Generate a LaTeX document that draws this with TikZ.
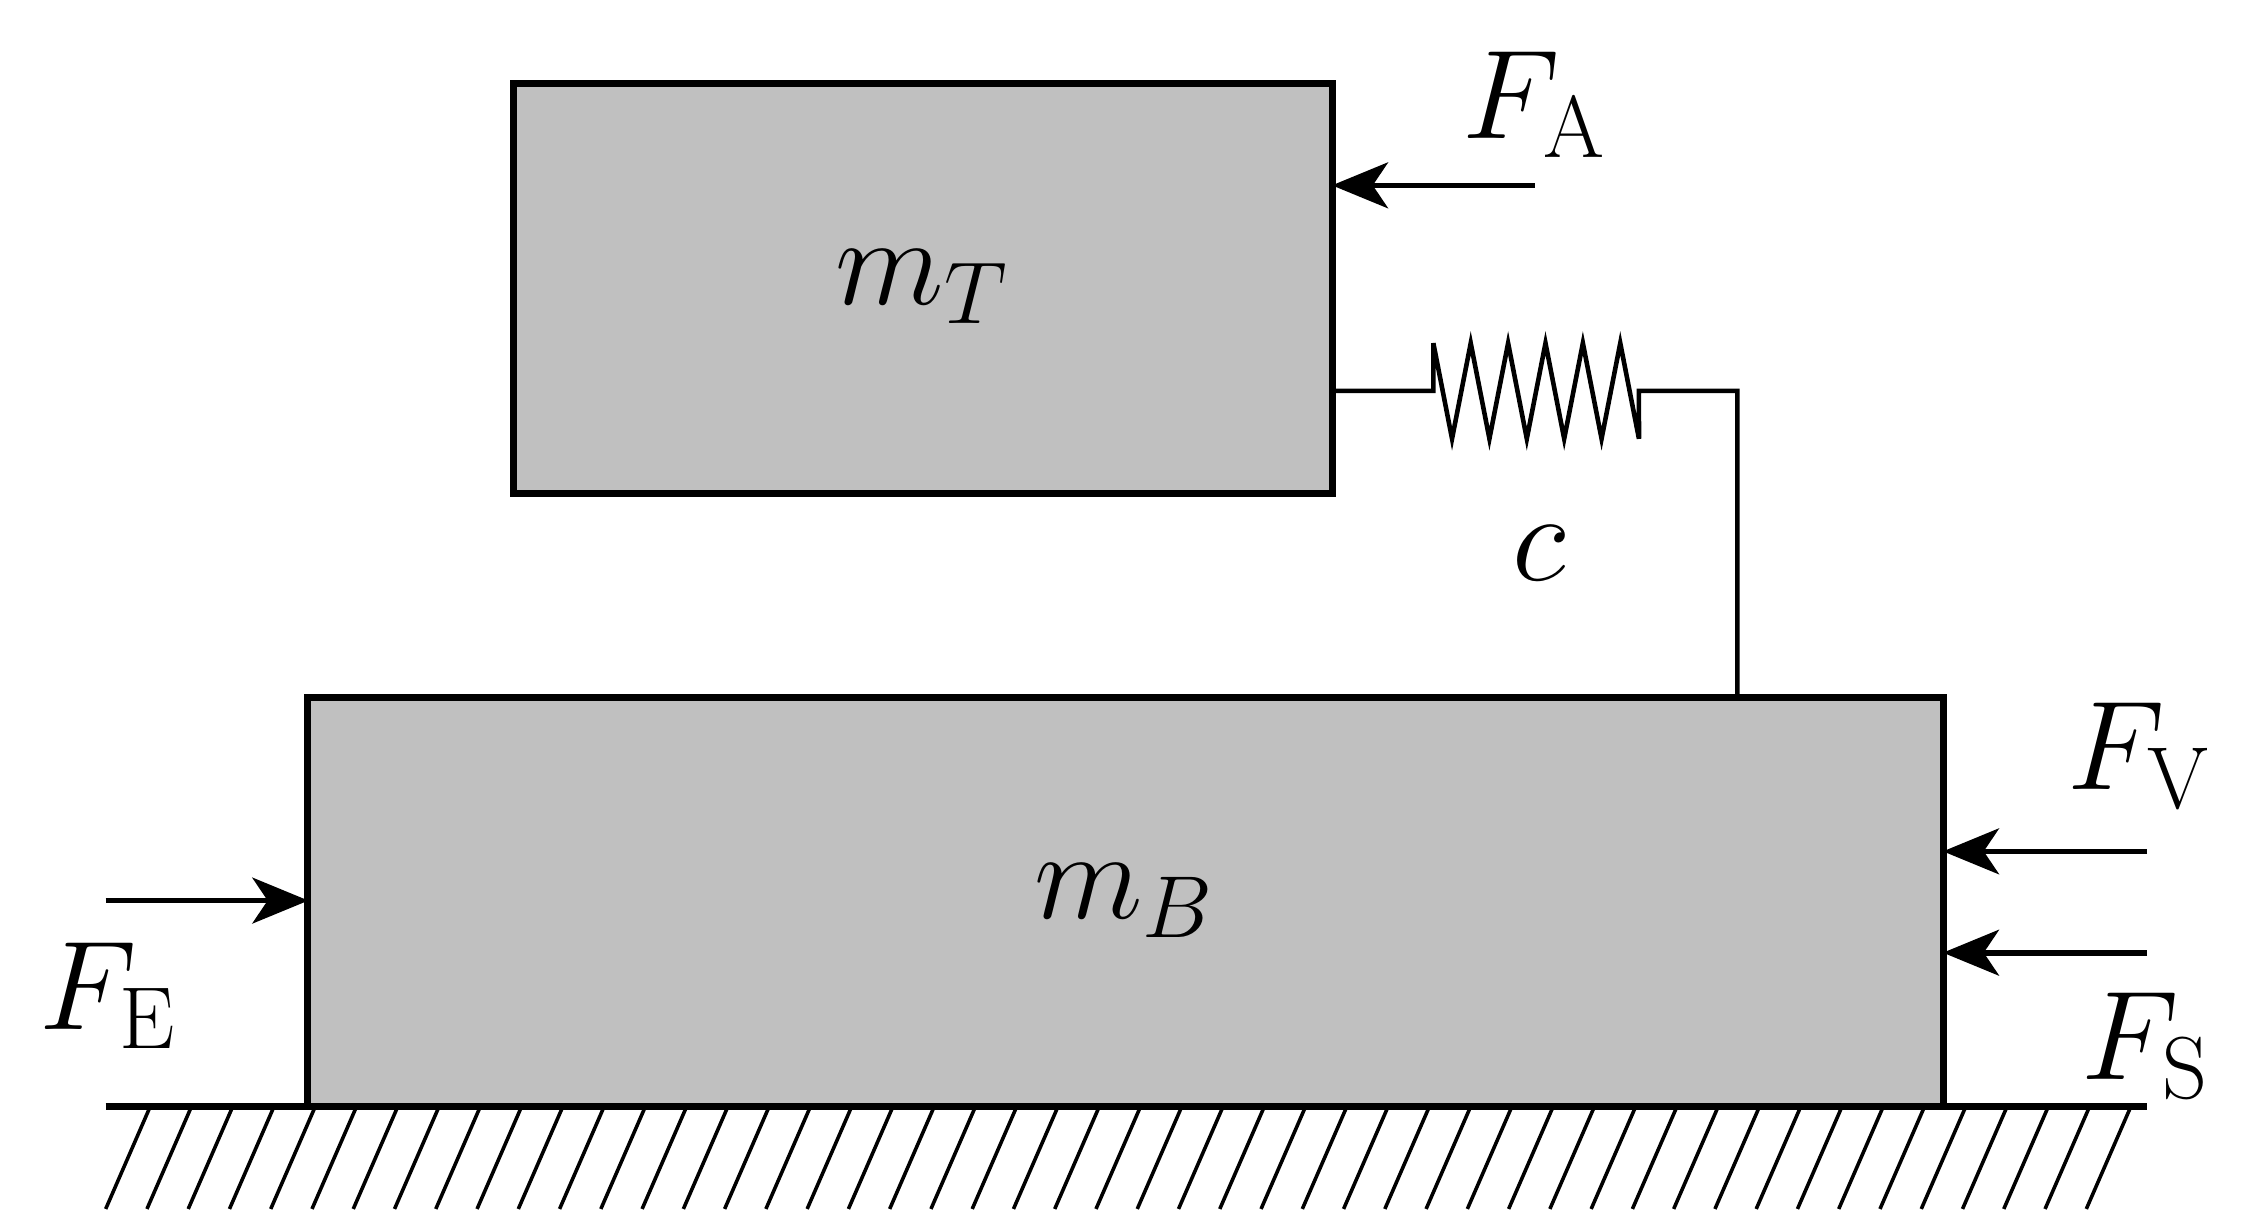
\documentclass[tikz,border=0pt]{standalone}
\usetikzlibrary{arrows.meta}
\definecolor{boxgray}{HTML}{C0C0C0}
\begin{document}
\begin{tikzpicture}[x=0.01cm,y=-0.01cm,
  mass/.style={draw,line width=1.4pt,fill=boxgray,inner sep=0pt},
  force/.style={line width=1.1pt,-{Stealth[length=11pt,width=9pt,inset=3pt]}},
  lbl/.style={font=\fontsize{25}{30}\selectfont}]
\useasboundingbox (0,0) rectangle (1552,850);
\node[mass,minimum width=5.65cm,minimum height=2.83cm] (T) at (637.5,199.5) {};
\node[mass,minimum width=11.29cm,minimum height=2.82cm] (B) at (777.5,623) {};
\node[lbl] (mT) at (637,198) {$m_T$};
\node[lbl] (mB) at (777,622) {$m_B$};
% ground
\coordinate (g1) at (73,764); \coordinate (g2) at (1483,764);
\draw[line width=1.4pt] (g1) -- (g2);
\foreach \x in {103,131.5,...,1483} \draw[line width=0.7pt] (\x,766) -- (\x-30,835);
% spring
\coordinate (s0) at (920,270); \coordinate (s1) at (990,270);
\coordinate (s2) at (1132,270); \coordinate (s3) at (1200,270); \coordinate (s4) at (1200,482);
\draw[line width=0.9pt] (s0) -- (s1) -- (990,237)
  \foreach \i in {1,...,11} { -- ({990+\i*12.91},{237+66*mod(\i,2)}) } -- (s2) -- (s3) -- (s4);
\node[lbl] (c) at (1063,382) {$c$};
% forces
\coordinate (a0) at (1060,128); \coordinate (a1) at (920,128);
\draw[force] (a0) -- (a1);
\node[lbl] (FA) at (1060,72) {$F_{\mathrm{A}}$};
\coordinate (v0) at (1483,588); \coordinate (v1) at (1342,588);
\draw[force] (v0) -- (v1);
\node[lbl] (FV) at (1478,522) {$F_{\mathrm{V}}$};
\coordinate (q0) at (1483,658); \coordinate (q1) at (1342,658);
\draw[force] (q0) -- (q1);
\node[lbl] (FS) at (1482,722) {$F_{\mathrm{S}}$};
\coordinate (e0) at (73,622); \coordinate (e1) at (213,622);
\draw[force] (e0) -- (e1);
\node[lbl] (FE) at (75,688) {$F_{\mathrm{E}}$};
\end{tikzpicture}
\end{document}
